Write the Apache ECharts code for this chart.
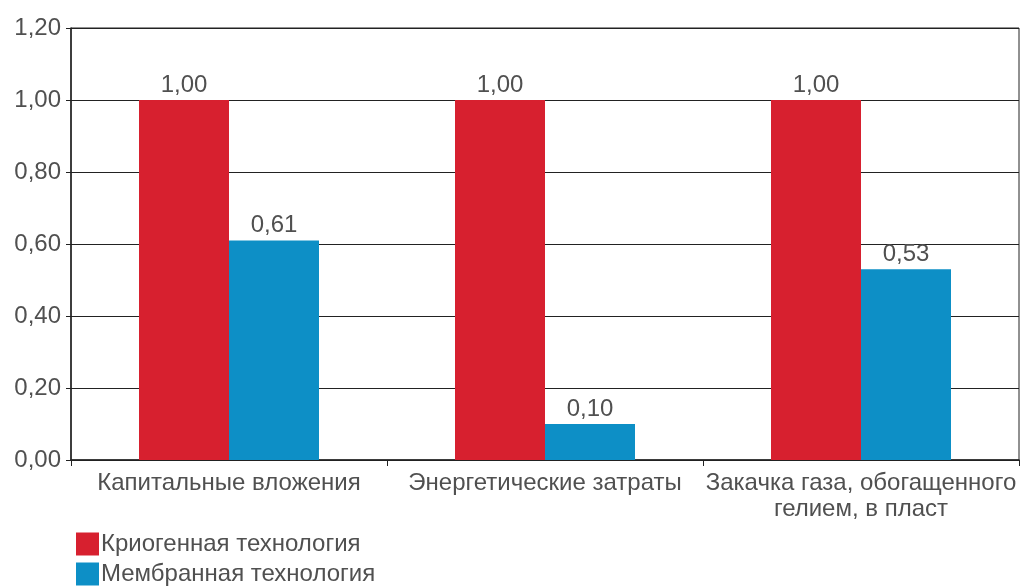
<!DOCTYPE html>
<html>
<head>
<meta charset="utf-8">
<script src="https://cdn.jsdelivr.net/npm/echarts@6/dist/echarts.min.js"></script>
<style>
  html, body { margin: 0; padding: 0; background: #fff; }
  #chart { width: 1029px; height: 586px; }
</style>
</head>
<body>
<div id="chart"></div>
<script>
// Relative cost comparison of helium recovery technologies
const categories = [
  'Капитальные вложения',
  'Энергетические затраты',
  'Закачка газа, обогащенного\nгелием, в пласт'
];
const seriesNames = ['Криогенная технология', 'Мембранная технология'];
const cryogenic = [1.00, 1.00, 1.00];
const membrane = [0.61, 0.10, 0.53];

const fmt = v => Number(v).toFixed(2).replace('.', ',');
const textColor = '#505050';
const font = 'Liberation Sans, Arial, sans-serif';
const fs = 24;

const chart = echarts.init(document.getElementById('chart'));
chart.setOption({
  animation: false,
  backgroundColor: '#ffffff',
  grid: {
    left: 71, right: 10, top: 28, bottom: 126,
    show: true, borderColor: '#222', borderWidth: 1, backgroundColor: 'transparent'
  },
  legend: {
    orient: 'vertical',
    left: 76, top: 532,
    padding: 0,
    itemWidth: 23, itemHeight: 23, itemGap: 6,
    icon: 'rect',
    textStyle: { color: textColor, fontSize: fs, fontFamily: font, padding: [0, 0, 0, -3] },
    data: seriesNames
  },
  xAxis: {
    type: 'category',
    data: categories,
    axisLine: { lineStyle: { color: '#222', width: 1.5 } },
    axisTick: { show: true, alignWithLabel: false, length: 6, lineStyle: { color: '#222' } },
    axisLabel: {
      color: textColor, fontSize: fs, fontFamily: font, margin: 10,
      interval: 0, lineHeight: 26, align: 'center'
    }
  },
  yAxis: {
    type: 'value',
    min: 0, max: 1.2, interval: 0.2,
    axisLine: { show: true, lineStyle: { color: '#222', width: 1.5 } },
    axisTick: { show: true, length: 5, lineStyle: { color: '#222' } },
    splitLine: { show: true, lineStyle: { color: '#222', width: 1 } },
    axisLabel: {
      color: textColor, fontSize: fs, fontFamily: font, margin: 10,
      formatter: v => fmt(v)
    }
  },
  series: [
    {
      name: seriesNames[0], type: 'bar', data: cryogenic,
      barWidth: 90, barGap: '0%',
      itemStyle: { color: '#d7202f' },
      label: { show: true, position: 'top', distance: 3, color: textColor, fontSize: fs, fontFamily: font, formatter: p => fmt(p.value) }
    },
    {
      name: seriesNames[1], type: 'bar', data: membrane,
      barWidth: 90, barGap: '0%',
      itemStyle: { color: '#0d8fc6' },
      label: { show: true, position: 'top', distance: 3, color: textColor, fontSize: fs, fontFamily: font, formatter: p => fmt(p.value) }
    }
  ]
});
</script>
</body>
</html>
